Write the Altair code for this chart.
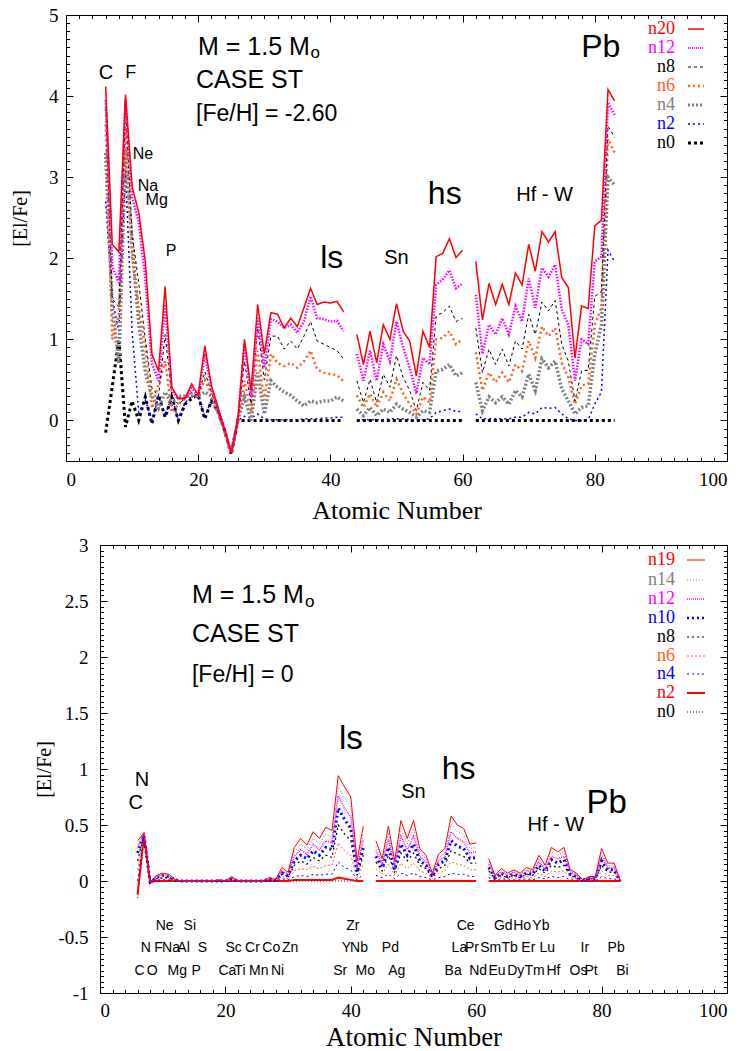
import altair as alt
import pandas as pd

SANS = "Liberation Sans"
SERIF = "Liberation Serif"

# atomic numbers plotted (Tc=43 and Pm=61 are gaps)
Z_ATOMIC = list(range(6, 43)) + list(range(44, 61)) + list(range(62, 84))
SEGMENT = [1] * 37 + [2] * 17 + [3] * 22

# ---------------- top panel: [Fe/H] = -2.60 ----------------
top_n20 = [4.12, 2.17, 2.08, 4.02, 2.88, 2.57, 1.96, 0.82, 0.61, 1.65, 0.41, 0.27, 0.27, 0.45, 0.31, 0.92, 0.43, 0.16, -0.12, -0.40, 0.00,
           1.00, 0.37, 1.43, 0.82, 1.33, 1.31, 1.14, 1.26, 1.16, 1.39, 1.63, 1.43, 1.46, 1.45, 1.47, 1.34,
           1.06, 0.69, 1.10, 0.71, 1.18, 1.00, 1.44, 1.10, 0.98, 0.55, 1.10, 0.90, 2.02, 2.06, 2.24, 2.01, 2.10,
           1.96, 1.24, 1.69, 1.43, 1.68, 1.43, 1.82, 1.67, 2.17, 1.84, 2.33, 2.20, 2.33, 1.76, 1.64, 0.77, 1.41, 1.38, 2.40, 2.47, 4.08, 3.94]
top_n12 = [3.95, 1.90, 1.70, 3.96, 2.75, 2.45, 1.75, 0.70, 0.49, 1.43, 0.37, 0.27, 0.27, 0.40, 0.31, 0.82, 0.40, 0.15, -0.12, -0.40, 0.00,
           0.94, 0.29, 1.26, 0.65, 1.25, 1.22, 1.14, 1.18, 1.08, 1.22, 1.53, 1.26, 1.25, 1.22, 1.23, 1.10,
           0.82, 0.49, 0.86, 0.49, 0.94, 0.73, 1.22, 0.90, 0.65, 0.33, 0.77, 0.69, 1.67, 1.74, 1.85, 1.63, 1.69,
           1.55, 0.82, 1.18, 1.06, 1.26, 1.06, 1.41, 1.22, 1.75, 1.39, 1.88, 1.77, 1.92, 1.37, 1.18, 0.49, 1.00, 0.94, 1.96, 2.02, 3.92, 3.77]
top_n8 = [3.85, 1.50, 1.40, 3.88, 2.30, 1.70, 1.00, 0.40, 0.30, 1.06, 0.30, 0.20, 0.27, 0.35, 0.30, 0.60, 0.35, 0.12, -0.12, -0.40, 0.00,
          0.73, 0.20, 1.14, 0.50, 1.04, 1.04, 0.88, 0.98, 0.88, 1.04, 1.22, 0.98, 0.94, 0.90, 0.86, 0.76,
          0.49, 0.22, 0.51, 0.22, 0.57, 0.41, 0.80, 0.53, 0.37, 0.12, 0.47, 0.37, 1.29, 1.33, 1.41, 1.22, 1.26,
          1.14, 0.59, 0.88, 0.69, 0.88, 0.67, 0.98, 0.88, 1.31, 1.06, 1.46, 1.35, 1.48, 0.94, 0.73, 0.24, 0.61, 0.62, 1.53, 1.59, 3.63, 3.49]
top_n6 = [3.65, 1.00, 1.30, 3.60, 2.00, 1.40, 0.90, 0.15, 0.45, 0.73, 0.10, 0.20, 0.27, 0.33, 0.30, 0.50, 0.33, 0.10, -0.13, -0.40, 0.00,
          0.49, 0.10, 0.86, 0.25, 0.82, 0.71, 0.67, 0.71, 0.65, 0.73, 0.86, 0.63, 0.59, 0.57, 0.56, 0.48,
          0.31, 0.16, 0.33, 0.16, 0.35, 0.24, 0.51, 0.33, 0.20, 0.08, 0.29, 0.22, 1.00, 1.02, 1.10, 0.94, 1.00,
          0.84, 0.37, 0.59, 0.47, 0.59, 0.47, 0.69, 0.61, 0.98, 0.77, 1.16, 1.04, 1.14, 0.71, 0.53, 0.20, 0.43, 0.45, 1.18, 1.39, 3.47, 3.30]
top_n4 = [3.30, 1.40, 0.70, 3.35, 2.20, 1.20, 0.60, 0.30, 0.15, 0.35, 0.20, 0.30, 0.30, 0.30, 0.30, 0.35, 0.30, 0.10, -0.13, -0.40, 0.00,
          0.29, 0.00, 0.59, 0.08, 0.49, 0.41, 0.35, 0.31, 0.24, 0.18, 0.24, 0.22, 0.24, 0.24, 0.29, 0.24,
          0.14, 0.06, 0.16, 0.06, 0.14, 0.10, 0.20, 0.14, 0.10, 0.04, 0.12, 0.10, 0.61, 0.63, 0.69, 0.55, 0.59,
          0.47, 0.12, 0.29, 0.22, 0.29, 0.20, 0.37, 0.29, 0.57, 0.37, 0.76, 0.65, 0.73, 0.39, 0.24, 0.08, 0.16, 0.18, 0.82, 1.18, 3.00, 2.90]
top_n2 = [2.70, 1.50, 1.10, 3.10, 1.10, 0.10, 0.25, 0.00, 0.30, 0.05, 0.30, 0.00, 0.22, 0.30, 0.30, 0.05, 0.25, 0.10, -0.12, -0.40, 0.00,
          0.05, 0.03, 0.08, 0.02, 0.01, 0.01, 0.01, 0.01, 0.01, 0.02, 0.02, 0.02, 0.03, 0.03, 0.04, 0.04,
          0.01, 0.01, 0.01, 0.01, 0.01, 0.02, 0.02, 0.02, 0.01, 0.01, 0.01, 0.02, 0.10, 0.12, 0.14, 0.11, 0.11,
          0.08, 0.02, 0.02, 0.02, 0.02, 0.02, 0.04, 0.04, 0.10, 0.08, 0.16, 0.15, 0.16, 0.08, 0.02, 0.00, 0.00, 0.01, 0.20, 0.35, 2.10, 1.96]
top_n0 = [-0.15, 0.42, 1.00, -0.08, 0.24, 0.00, 0.29, -0.04, 0.31, 0.04, 0.29, 0.00, 0.20, 0.27, 0.31, 0.02, 0.24, 0.11, -0.12, -0.42, 0.00,
          0.00, 0.00, 0.00, 0.00, 0.00, 0.00, 0.00, 0.00, 0.00, 0.00, 0.00, 0.00, 0.00, 0.00, 0.00, 0.00,
          0.00, 0.00, 0.00, 0.00, 0.00, 0.00, 0.00, 0.00, 0.00, 0.00, 0.00, 0.00, 0.00, 0.00, 0.00, 0.00, 0.00,
          0.00, 0.00, 0.00, 0.00, 0.00, 0.00, 0.00, 0.00, 0.00, 0.00, 0.00, 0.00, 0.00, 0.00, 0.00, 0.00, 0.00, 0.00, 0.00, 0.00, 0.00, 0.00]

# ---------------- bottom panel: [Fe/H] = 0 ----------------
bot_n19 = [0.36, 0.43, -0.01, 0.05, 0.07, 0.06, 0.01, 0.00, 0.00, 0.00, 0.00, 0.00, 0.00, 0.01, 0.00, 0.04, 0.00, 0.00, 0.00, 0.00, 0.00,
           0.03, 0.01, 0.12, 0.08, 0.30, 0.38, 0.32, 0.44, 0.38, 0.48, 0.45, 0.94, 0.84, 0.75, 0.18, 0.49,
           0.36, 0.20, 0.49, 0.18, 0.54, 0.38, 0.54, 0.29, 0.23, 0.07, 0.24, 0.29, 0.58, 0.50, 0.47, 0.33, 0.34,
           0.20, 0.05, 0.11, 0.07, 0.10, 0.07, 0.12, 0.10, 0.23, 0.14, 0.30, 0.26, 0.30, 0.10, 0.07, 0.01, 0.04, 0.04, 0.29, 0.16, 0.16, 0.00]
bot_n14 = [0.33, 0.42, -0.01, 0.04, 0.06, 0.05, 0.01, 0.00, 0.00, 0.00, 0.00, 0.00, 0.00, 0.01, 0.00, 0.03, 0.00, 0.00, 0.00, 0.00, 0.00,
           0.03, 0.01, 0.10, 0.07, 0.26, 0.33, 0.28, 0.38, 0.33, 0.42, 0.39, 0.84, 0.74, 0.66, 0.14, 0.43,
           0.31, 0.17, 0.43, 0.15, 0.47, 0.33, 0.47, 0.25, 0.20, 0.06, 0.21, 0.25, 0.51, 0.44, 0.41, 0.29, 0.30,
           0.17, 0.04, 0.09, 0.06, 0.09, 0.06, 0.10, 0.09, 0.20, 0.12, 0.26, 0.23, 0.26, 0.09, 0.06, 0.01, 0.03, 0.03, 0.25, 0.14, 0.14, 0.00]
bot_n12 = [0.30, 0.42, -0.01, 0.04, 0.05, 0.04, 0.01, 0.00, 0.00, 0.00, 0.00, 0.00, 0.00, 0.01, 0.00, 0.03, 0.00, 0.00, 0.00, 0.00, 0.00,
           0.02, 0.01, 0.09, 0.06, 0.22, 0.28, 0.24, 0.33, 0.28, 0.36, 0.34, 0.76, 0.65, 0.57, 0.12, 0.37,
           0.27, 0.15, 0.37, 0.13, 0.40, 0.28, 0.40, 0.22, 0.17, 0.05, 0.18, 0.22, 0.44, 0.38, 0.35, 0.25, 0.26,
           0.15, 0.04, 0.08, 0.05, 0.08, 0.05, 0.09, 0.08, 0.17, 0.10, 0.22, 0.20, 0.22, 0.08, 0.05, 0.01, 0.03, 0.03, 0.22, 0.12, 0.12, 0.00]
bot_n10 = [0.25, 0.41, -0.01, 0.03, 0.05, 0.04, 0.01, 0.00, 0.00, 0.00, 0.00, 0.00, 0.00, 0.00, 0.00, 0.02, 0.00, 0.00, 0.00, 0.00, 0.00,
           0.02, 0.01, 0.07, 0.05, 0.18, 0.23, 0.20, 0.27, 0.23, 0.30, 0.28, 0.65, 0.55, 0.47, 0.08, 0.30,
           0.22, 0.12, 0.30, 0.10, 0.33, 0.23, 0.33, 0.18, 0.14, 0.04, 0.15, 0.18, 0.36, 0.31, 0.29, 0.20, 0.21,
           0.12, 0.03, 0.07, 0.04, 0.06, 0.04, 0.07, 0.06, 0.14, 0.09, 0.19, 0.16, 0.19, 0.06, 0.04, 0.01, 0.02, 0.02, 0.18, 0.10, 0.10, 0.00]
bot_n8 = [0.18, 0.41, -0.01, 0.02, 0.03, 0.03, 0.00, 0.00, 0.00, 0.00, 0.00, 0.00, 0.00, 0.00, 0.00, 0.02, 0.00, 0.00, 0.00, 0.00, 0.00,
          0.01, 0.00, 0.06, 0.04, 0.14, 0.18, 0.15, 0.21, 0.18, 0.23, 0.21, 0.50, 0.42, 0.36, 0.05, 0.23,
          0.17, 0.09, 0.23, 0.08, 0.25, 0.18, 0.25, 0.14, 0.11, 0.03, 0.11, 0.14, 0.27, 0.24, 0.22, 0.16, 0.16,
          0.09, 0.02, 0.05, 0.03, 0.05, 0.03, 0.06, 0.05, 0.11, 0.07, 0.14, 0.12, 0.14, 0.05, 0.03, 0.00, 0.02, 0.02, 0.14, 0.08, 0.08, 0.00]
bot_n6 = [0.10, 0.40, -0.01, 0.02, 0.02, 0.02, 0.00, 0.00, 0.00, 0.00, 0.00, 0.00, 0.00, 0.00, 0.00, 0.01, 0.00, 0.00, 0.00, 0.00, 0.00,
          0.01, 0.00, 0.04, 0.02, 0.09, 0.11, 0.10, 0.13, 0.11, 0.14, 0.14, 0.34, 0.27, 0.23, 0.03, 0.15,
          0.11, 0.06, 0.15, 0.05, 0.16, 0.11, 0.16, 0.09, 0.07, 0.02, 0.07, 0.09, 0.17, 0.15, 0.14, 0.10, 0.10,
          0.06, 0.02, 0.03, 0.02, 0.03, 0.02, 0.04, 0.03, 0.07, 0.04, 0.09, 0.08, 0.09, 0.03, 0.02, 0.00, 0.01, 0.01, 0.09, 0.05, 0.05, 0.00]
bot_n4 = [0.00, 0.40, -0.01, 0.01, 0.01, 0.01, 0.00, 0.00, 0.00, 0.00, 0.00, 0.00, 0.00, 0.00, 0.00, 0.00, 0.00, 0.00, 0.00, 0.00, 0.00,
          0.00, 0.00, 0.02, 0.01, 0.04, 0.05, 0.04, 0.06, 0.05, 0.06, 0.06, 0.17, 0.12, 0.10, 0.01, 0.06,
          0.05, 0.03, 0.06, 0.02, 0.07, 0.05, 0.07, 0.04, 0.03, 0.01, 0.03, 0.04, 0.07, 0.06, 0.06, 0.04, 0.04,
          0.03, 0.01, 0.01, 0.01, 0.01, 0.01, 0.02, 0.01, 0.03, 0.02, 0.04, 0.03, 0.04, 0.01, 0.01, 0.00, 0.00, 0.00, 0.04, 0.02, 0.02, 0.00]
bot_n2 = [-0.12, 0.40, -0.01, 0.00, 0.00, 0.00, 0.00, 0.00, 0.00, 0.00, 0.00, 0.00, 0.00, 0.00, 0.00, 0.00, 0.00, 0.00, 0.00, 0.00, 0.00,
          0.00, 0.00, 0.00, 0.00, 0.01, 0.01, 0.01, 0.01, 0.01, 0.01, 0.01, 0.03, 0.02, 0.01, 0.00, 0.00,
          0.00, 0.00, 0.00, 0.00, 0.00, 0.00, 0.00, 0.00, 0.00, 0.00, 0.00, 0.00, 0.00, 0.00, 0.00, 0.00, 0.00,
          0.00, 0.00, 0.00, 0.00, 0.00, 0.00, 0.00, 0.00, 0.00, 0.00, 0.00, 0.00, 0.00, 0.00, 0.00, 0.00, 0.00, 0.00, 0.00, 0.00, 0.00, 0.00]
bot_n0 = [-0.15, 0.39, -0.01, 0.00, 0.00, 0.00, 0.00, 0.00, 0.00, 0.00, 0.00, 0.00, 0.00, 0.00, 0.00, 0.00, 0.00, 0.00, 0.00, 0.00, 0.00,
          0.00, 0.00, 0.00, 0.00, 0.00, 0.00, 0.00, 0.00, 0.00, 0.00, 0.00, 0.00, 0.00, 0.00, 0.00, 0.00,
          0.00, 0.00, 0.00, 0.00, 0.00, 0.00, 0.00, 0.00, 0.00, 0.00, 0.00, 0.00, 0.00, 0.00, 0.00, 0.00, 0.00,
          0.00, 0.00, 0.00, 0.00, 0.00, 0.00, 0.00, 0.00, 0.00, 0.00, 0.00, 0.00, 0.00, 0.00, 0.00, 0.00, 0.00, 0.00, 0.00, 0.00, 0.00, 0.00]

# element labels of the bottom panel (three rows)
row1_names = ["Ne", "Si", "Zr", "Ce", "Gd", "Ho", "Yb"]
row1_z = [10, 14, 40, 58, 64, 67, 70]
row2_names = ["N", "F", "Na", "Al", "S", "Sc", "Cr", "Co", "Zn", "Y", "Nb", "Pd", "La", "Pr", "Sm", "Tb", "Er", "Lu", "Ir", "Pb"]
row2_z = [7, 9, 11, 13, 16, 21, 24, 27, 30, 39, 41, 46, 57, 59, 62, 65, 68, 71, 77, 82]
row3_names = ["C", "O", "Mg", "P", "Ca", "Ti", "Mn", "Ni", "Sr", "Mo", "Ag", "Ba", "Nd", "Eu", "Dy", "Tm", "Hf", "Os", "Pt", "Bi"]
row3_z = [6, 8, 12, 15, 20, 22, 25, 28, 38, 42, 47, 56, 60, 63, 66, 69, 72, 76, 78, 83]

X_MAJOR = [0, 20, 40, 60, 80, 100]
X_MINOR = list(range(0, 101, 2))
TOP_Y_MAJOR = [0, 1, 2, 3, 4, 5]
TOP_Y_MINOR = [round(-0.5 + 0.1 * i, 2) for i in range(56)]
BOT_Y_MAJOR = [-1, -0.5, 0, 0.5, 1, 1.5, 2, 2.5, 3]
BOT_Y_MINOR = [round(-1 + 0.05 * i, 2) for i in range(81)]

ORANGE = "#ff6020"


def series_frame(vals):
    assert len(vals) == len(Z_ATOMIC), len(vals)
    return pd.DataFrame({"Z": Z_ATOMIC, "v": vals, "seg": SEGMENT})


def axis_set(kind, orient, values, title=None, lab_pad=15, title_pad=10, offset=0, title_size=20, title_y=None):
    common = dict(orient=orient, values=values, grid=False, tickColor="black", domainColor="black", offset=offset)
    if kind == "main":
        flush = 6 if orient in ("bottom", "top") else False
        extra = dict(tickSize={"expr": "-7"}, labels=True, labelFont=SERIF, labelFontSize=19, labelColor="black",
                     labelPadding=lab_pad, labelFlush=flush, labelExpr="datum.value + ''",
                     title=title, titleFont=SERIF, titleFontSize=title_size,
                     titleFontWeight="normal", titleColor="black", titlePadding=title_pad, domain=True)
        if title_y is not None:
            extra["titleY"] = title_y
    elif kind == "opp":
        extra = dict(tickSize={"expr": "-7"}, labels=False, title=None, domain=True)
    else:
        extra = dict(tickSize={"expr": "-3.5"}, labels=False, title=None, domain=False)
    common.update(extra)
    return alt.Axis(**common)


def line(vals, color, width, dash, xs, ys, xaxis=None, yaxis=None):
    mk = dict(color=color, strokeWidth=width)
    if dash:
        mk["strokeDash"] = dash
    return alt.Chart(series_frame(vals)).mark_line(**mk).encode(
        x=alt.X("Z:Q", scale=xs, axis=xaxis),
        y=alt.Y("v:Q", scale=ys, axis=yaxis),
        detail="seg:N",
    )


def note(text, x, y, size, font=SANS, align="center", color="black"):
    return alt.Chart(alt.Data(values=[{"t": text}])).mark_text(
        text=text, font=font, fontSize=size, align=align, baseline="middle", color=color
    ).encode(
        x=alt.XDatum(x, type="quantitative", axis=None),
        y=alt.YDatum(y, type="quantitative", axis=None),
    )


def legend_entry(text, color, py, width, dash, text_x=609, x1=622, x2=638):
    t = alt.Chart(alt.Data(values=[{"t": text}])).mark_text(
        text=text, font=SERIF, fontSize=18, align="right", baseline="middle", color=color
    ).encode(x=alt.value(text_x), y=alt.value(py))
    mk = dict(color=color, strokeWidth=width)
    if dash:
        mk["strokeDash"] = dash
    r = alt.Chart(alt.Data(values=[{"t": text}])).mark_rule(**mk).encode(
        x=alt.value(x1), x2=alt.value(x2), y=alt.value(py)
    )
    return [t, r]


# ================= TOP PANEL =================
xs_t = alt.Scale(domain=[0, 100], nice=False, zero=False)
ys_t = alt.Scale(domain=[-0.5, 5], nice=False, zero=False)

top_styles = [
    ("n0", top_n0, "black", 3.0, [3, 3]),
    ("n2", top_n2, "#0000ff", 1.5, [2, 3]),
    ("n4", top_n4, "#808080", 3.5, [2, 2]),
    ("n6", top_n6, ORANGE, 2.5, [2, 3]),
    ("n8", top_n8, "black", 1.0, [3, 3]),
    ("n12", top_n12, "#ff00ff", 2.5, [1.5, 1.5]),
    ("n20", top_n20, "#ff0000", 1.5, None),
]
top_axes = [
    (axis_set("main", "bottom", X_MAJOR, "Atomic Number", lab_pad=16, title_pad=8, title_size=26),
     axis_set("main", "left", TOP_Y_MAJOR, "[El/Fe]", lab_pad=15, title_pad=18, title_size=20, title_y=203)),
    (axis_set("opp", "top", X_MAJOR), axis_set("opp", "right", TOP_Y_MAJOR)),
    (axis_set("minor", "bottom", X_MINOR), axis_set("minor", "left", TOP_Y_MINOR)),
    (axis_set("minor", "top", X_MINOR), axis_set("minor", "right", TOP_Y_MINOR)),
]
top_layers = []
for i, (name, vals, col, w, dash) in enumerate(top_styles):
    xa, ya = top_axes[i] if i < len(top_axes) else (None, None)
    top_layers.append(line(vals, col, w, dash, xs_t, ys_t, xa, ya))

top_layers += [
    note("M = 1.5 M", 19.97, 4.61, 25, align="left"),
    note("o", 37.0, 4.53, 17, align="left"),
    note("CASE ST", 19.67, 4.20, 25, align="left"),
    note("[Fe/H] = -2.60", 19.67, 3.78, 23, align="left"),
    note("C", 6.05, 4.28, 20),
    note("F", 9.8, 4.29, 18),
    note("Ne", 11.65, 3.28, 16),
    note("Na", 12.4, 2.89, 16),
    note("Mg", 13.72, 2.72, 16),
    note("P", 15.9, 2.09, 16),
    note("ls", 40.2, 2.0, 32),
    note("Sn", 50.0, 2.0, 20),
    note("hs", 57.3, 2.79, 32),
    note("Hf - W", 72.4, 2.78, 20),
    note("Pb", 80.9, 4.61, 32),
]
top_leg = [
    ("n20", "#ff0000", 14, 1.5, None),
    ("n12", "#ff00ff", 33, 2.0, [1, 1]),
    ("n8", "black", 52, 1.0, [3, 3]),
    ("n6", ORANGE, 71, 2.5, [2, 3]),
    ("n4", "#808080", 90, 3.0, [2, 2]),
    ("n2", "#0000ff", 109, 1.5, [2, 3]),
    ("n0", "black", 128, 3.0, [3, 3]),
]
for name, col, py, w, dash in top_leg:
    top_layers += legend_entry(name, col, py, w, dash)

top = alt.layer(*top_layers).resolve_axis(x="independent", y="independent").properties(width=661, height=446)

# ================= BOTTOM PANEL =================
xs_b = alt.Scale(domain=[0, 100], range=[34, 661], nice=False, zero=False)
ys_b = alt.Scale(domain=[-1, 3], nice=False, zero=False)

bot_styles = [
    ("n0", bot_n0, "black", 1.0, [1, 2]),
    ("n2", bot_n2, "#ff0000", 2.0, None),
    ("n4", bot_n4, "#0000ff", 1.0, [2, 3]),
    ("n6", bot_n6, ORANGE, 1.0, [2, 2]),
    ("n8", bot_n8, "black", 1.2, [2, 3]),
    ("n10", bot_n10, "#0000ff", 3.0, [2, 3]),
    ("n12", bot_n12, "#ff00ff", 1.5, [1, 1]),
    ("n14", bot_n14, "#808080", 1.0, [1, 2]),
    ("n19", bot_n19, "#ff0000", 1.0, None),
]
bot_axes = [
    (axis_set("main", "bottom", X_MAJOR, "Atomic Number", lab_pad=15, title_pad=4, title_size=27),
     axis_set("main", "left", BOT_Y_MAJOR, "[El/Fe]", lab_pad=19, title_pad=3, title_size=20, offset=-34)),
    (axis_set("opp", "top", X_MAJOR), axis_set("opp", "right", BOT_Y_MAJOR)),
    (axis_set("minor", "bottom", X_MINOR), axis_set("minor", "left", BOT_Y_MINOR, offset=-34)),
    (axis_set("minor", "top", X_MINOR), axis_set("minor", "right", BOT_Y_MINOR)),
]
bot_layers = []
for i, (name, vals, col, w, dash) in enumerate(bot_styles):
    xa, ya = bot_axes[i] if i < len(bot_axes) else (None, None)
    bot_layers.append(line(vals, col, w, dash, xs_b, ys_b, xa, ya))

bot_layers += [
    note("M = 1.5 M", 14.67, 2.553, 25, align="left"),
    note("o", 32.7, 2.49, 17, align="left"),
    note("CASE ST", 14.67, 2.209, 25, align="left"),
    note("[Fe/H] = 0", 14.67, 1.837, 23, align="left"),
    note("N", 6.7, 0.90, 20),
    note("C", 5.7, 0.70, 20),
    note("ls", 40.0, 1.27, 33),
    note("Sn", 50.0, 0.795, 20),
    note("hs", 57.2, 1.0, 32),
    note("Hf - W", 72.7, 0.50, 20),
    note("Pb", 80.8, 0.70, 33),
]
for names, zs, yrow in [(row1_names, row1_z, -0.40), (row2_names, row2_z, -0.60), (row3_names, row3_z, -0.80)]:
    bot_layers.append(
        alt.Chart(pd.DataFrame({"name": names, "Z": zs})).mark_text(
            font=SANS, fontSize=14, baseline="middle", align="center", dx=2, color="black"
        ).encode(
            x=alt.X("Z:Q", axis=None),
            y=alt.YDatum(yrow, type="quantitative", axis=None),
            text="name:N",
        )
    )
bot_leg = [
    ("n19", "#ff0000", 15, 1.0, None),
    ("n14", "#808080", 35, 1.0, [1, 2]),
    ("n12", "#ff00ff", 54, 1.5, [1, 1]),
    ("n10", "#0000ff", 73, 2.5, [2, 3]),
    ("n8", "black", 92, 1.0, [2, 3]),
    ("n6", ORANGE, 111, 1.0, [2, 2]),
    ("n4", "#0000ff", 129, 1.0, [2, 3]),
    ("n2", "#ff0000", 148, 2.0, None),
    ("n0", "black", 167, 1.0, [1, 2]),
]
for name, col, py, w, dash in bot_leg:
    bot_layers += legend_entry(name, col, py, w, dash, text_x=609, x1=621, x2=639)

bottom = alt.layer(*bot_layers).resolve_axis(x="independent", y="independent").properties(width=661, height=448)

chart = alt.vconcat(top, bottom, spacing=13).properties(
    padding={"left": 2, "top": -2, "right": 0, "bottom": 0},
    background="white",
).configure_view(stroke="transparent", strokeWidth=0)

chart.save("out.html", embed_options={"renderer": "svg", "actions": False})
